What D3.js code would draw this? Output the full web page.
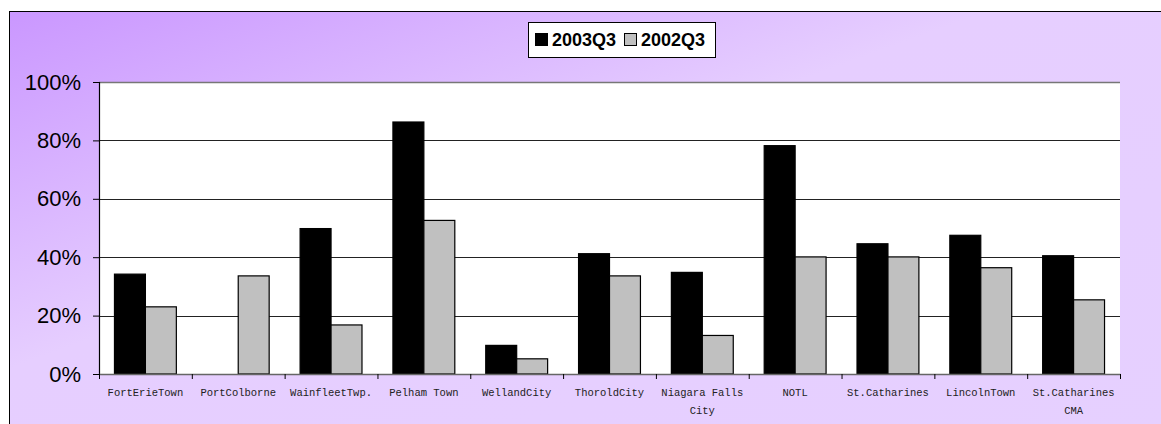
<!DOCTYPE html>
<html><head><meta charset="utf-8">
<script src="https://cdn.jsdelivr.net/npm/d3@7/dist/d3.min.js"></script>
<style>html,body{margin:0;padding:0;background:#fff;}svg{display:block;}</style>
</head><body>
<svg id="chart" width="1161" height="424"></svg>
<script>
const categories = [
  ["FortErieTown"], ["PortColborne"], ["WainfleetTwp."], ["Pelham Town"], ["WellandCity"],
  ["ThoroldCity"], ["Niagara Falls", "City"], ["NOTL"], ["St.Catharines"], ["LincolnTown"],
  ["St.Catharines", "CMA"]
];
const seriesNames = ["2003Q3", "2002Q3"];
const values2003 = [34.2, null, 49.8, 86.3, 9.8, 41.2, 34.8, 78.2, 44.6, 47.5, 40.5];
const values2002 = [23.0, 33.6, 16.8, 52.6, 5.2, 33.6, 13.2, 40.1, 40.1, 36.4, 25.4];
const yTicks = [0, 20, 40, 60, 80, 100];
const colors = ["#000000", "#C0C0C0"];

const svg = d3.select("#chart");
const defs = svg.append("defs");
const grad = defs.append("linearGradient").attr("id", "bg")
  .attr("x1", 0).attr("y1", 0).attr("x2", 1).attr("y2", 1);
grad.append("stop").attr("offset", 0).attr("stop-color", "#CA97FF");
grad.append("stop").attr("offset", 0.42).attr("stop-color", "#E6CEFF");
grad.append("stop").attr("offset", 1).attr("stop-color", "#E6D0FF");

svg.append("rect").attr("x", 9.5).attr("y", 11.5).attr("width", 1165).attr("height", 425)
  .attr("fill", "url(#bg)").attr("stroke", "#000").attr("stroke-width", 1);

const L = 99, R = 1120, T = 82, B = 374;
const idx = categories.map((d, i) => i);
const x0 = d3.scaleBand().domain(idx).range([L, R]).paddingInner(0).paddingOuter(0);
const x1 = d3.scaleBand().domain([0, 1]).range([0, x0.bandwidth()]).paddingOuter(0.5).paddingInner(0);
const y = d3.scaleLinear().domain([0, 100]).range([B, T]);

svg.append("rect").attr("x", L).attr("y", T).attr("width", R - L).attr("height", B - T).attr("fill", "#fff");

// gridlines
svg.append("g").selectAll("line").data(yTicks.filter(t => t > 0)).join("line")
  .attr("x1", L).attr("x2", R).attr("y1", d => Math.round(y(d)) + 0.5).attr("y2", d => Math.round(y(d)) + 0.5)
  .attr("stroke", d => d === 100 ? "#777" : "#222").attr("stroke-width", d => d === 100 ? 1.6 : 1.2);

// bars
const series = [values2003, values2002];
const g = svg.append("g");
series.forEach((vals, s) => {
  g.append("g").selectAll("rect").data(vals.map((v, i) => ({v, i})).filter(d => d.v !== null)).join("rect")
    .attr("x", d => x0(d.i) + x1(s))
    .attr("y", d => y(d.v))
    .attr("width", x1.bandwidth())
    .attr("height", d => y(0) - y(d.v))
    .attr("fill", colors[s]).attr("stroke", "#000").attr("stroke-width", 1.2);
});

// y axis
const yAxis = d3.axisLeft(y).tickValues(yTicks).tickFormat(d => d + "%").tickSize(6).tickPadding(12);
const ya = svg.append("g").attr("transform", `translate(${L},0)`).call(yAxis);
ya.select(".domain").attr("stroke", "#000").attr("stroke-width", 1.2);
ya.selectAll(".tick line").attr("stroke", "#000");
ya.selectAll("text").attr("font-family", "Arial, 'Liberation Sans', sans-serif").attr("font-size", 22).attr("fill", "#000");

// x axis
const xb = d3.scaleLinear().domain([0, categories.length]).range([L, R]);
const xa = svg.append("g").attr("transform", `translate(0,${B})`)
  .call(d3.axisBottom(xb).ticks(categories.length).tickValues(d3.range(categories.length + 1)).tickFormat("").tickSize(5).tickSizeOuter(0));
xa.select(".domain").attr("stroke", "#666").attr("stroke-width", 1.4);
xa.selectAll(".tick line").attr("stroke", "#000");

const lab = svg.append("g").selectAll("text").data(categories).join("text")
  .attr("x", (d, i) => x0(i) + x0.bandwidth() / 2)
  .attr("y", 396)
  .attr("text-anchor", "middle")
  .attr("font-family", "'Liberation Mono', monospace").attr("font-size", 10.5).attr("fill", "#222");
lab.each(function(d) {
  const t = d3.select(this);
  d.forEach((line, k) => t.append("tspan").attr("x", t.attr("x")).attr("dy", k === 0 ? 0 : 18).text(line));
});

// legend
const lg = svg.append("g");
lg.append("rect").attr("x", 528.5).attr("y", 22.5).attr("width", 187).attr("height", 35)
  .attr("fill", "#fff").attr("stroke", "#000").attr("stroke-width", 1);
const legendX = [535, 624];
seriesNames.forEach((n, s) => {
  lg.append("rect").attr("x", legendX[s] + 0.5).attr("y", 33.5).attr("width", 12).attr("height", 12)
    .attr("fill", colors[s]).attr("stroke", "#000").attr("stroke-width", 1);
  lg.append("text").attr("x", legendX[s] + 17).attr("y", 45.5).text(n)
    .attr("font-family", "Arial, 'Liberation Sans', sans-serif").attr("font-weight", "bold").attr("font-size", 18).attr("fill", "#000");
});
</script>
</body></html>
